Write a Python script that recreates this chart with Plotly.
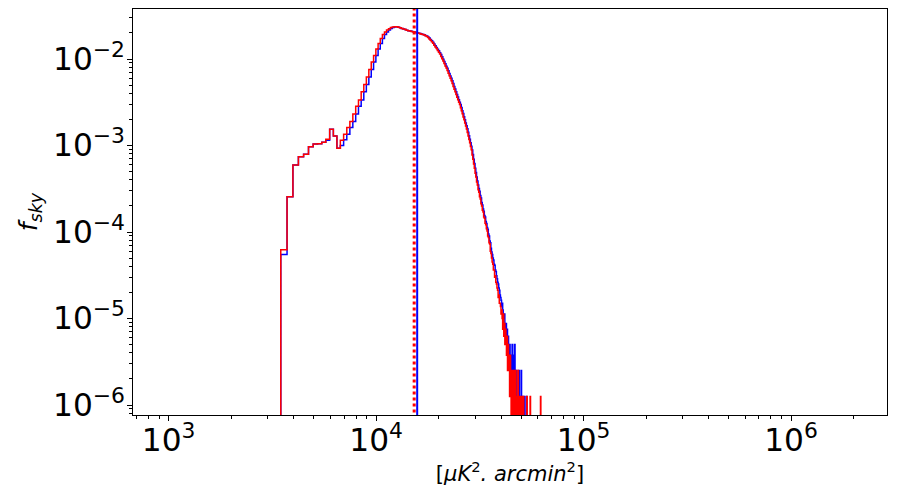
import numpy as np
import plotly.graph_objects as go

# histogram of pixel counts per linear bin, normalised by total pixel count -> f_sky
n_pix = 800000
bin_start = 3470.0
bin_width = 250.0

red_counts = [
    50, 205, 477, 594, 633, 774, 832, 836, 872, 944, 1232, 1032, 743,
    920, 1080, 1290, 1515, 1850, 2278, 2686, 3342, 4056, 4952, 6064, 7368, 8800, 10440, 12120, 13808, 15312, 16408,
    17264, 17920, 18552, 18752, 18848, 18848, 18600, 18352, 18016, 17728, 17496, 17224, 16992, 16808, 16680, 16504, 16328, 16152, 16024, 15856,
    15688, 15480, 15312, 15112, 14872, 14600, 14136, 13656, 13160, 12680, 12152, 11544, 11008, 10552, 10056, 9584, 9136, 8576, 8040, 7584,
    7112, 6656, 6296, 5872, 5480, 5128, 4784, 4480, 4168, 3856, 3584, 3336, 3104, 2896, 2704, 2528, 2384, 2192, 2016, 1864,
    1712, 1584, 1456, 1344, 1244, 1134, 1033, 941, 858, 781, 716, 620, 556, 488, 437, 381, 345, 303, 279, 247,
    231, 205, 192, 170, 160, 143, 136, 119, 115, 101, 97, 87, 82, 72, 69, 60, 58, 48, 45, 40,
    36, 34, 29, 29, 24, 25, 21, 20, 18, 17, 14, 15, 12, 12, 11,
    9, 10, 8, 6, 9, 5, 7, 4, 6, 5, 3, 5, 2, 4, 3, 2, 1, 3, 2, 0,
    2, 1, 2, 0, 1, 2, 0, 1, 2, 0, 1, 0, 1, 2, 0, 1, 0, 1, 0, 1,
    1, 0, 0, 1, 0, 1, 0, 0, 0, 0, 0, 0, 0, 1, 0, 0, 0, 0, 0, 0,
    0, 1, 0, 0, 0, 0, 0, 0, 0, 0, 0, 0, 0, 0, 0, 0, 0, 0, 0, 0,
    0, 0, 0, 0, 0, 0, 0, 0, 1,
]

blue_counts = [
    44, 205, 477, 594, 633, 774, 832, 836, 872, 920, 1232, 1032, 743,
    800, 930, 1080, 1290, 1515, 1850, 2278, 2686, 3342, 4056, 4952, 6064, 7368, 8800, 10440, 12120, 13808, 15312,
    16408, 17300, 18000, 18550, 18780, 18850, 18650, 18400, 18060, 17760, 17520, 17250, 17010, 16830, 16700, 16530, 16360, 16190, 16070, 15910,
    15750, 15560, 15400, 15220, 15000, 14760, 14400, 13950, 13480, 12980, 12500, 11950, 11350, 10850, 10400, 9950, 9450, 9000, 8500, 7950,
    7500, 7050, 6600, 6250, 5850, 5450, 5100, 4780, 4480, 4170, 3860, 3590, 3340, 3110, 2900, 2710, 2530, 2390, 2200, 2020,
    1870, 1720, 1590, 1460, 1350, 1250, 1140, 1040, 945, 860, 785, 712, 630, 555, 495, 438, 390, 345, 310, 280,
    254, 236, 211, 198, 175, 164, 148, 139, 124, 119, 106, 100, 90, 86, 76, 72, 63, 60, 52, 47,
    44, 40, 38, 34, 33, 29, 28, 25, 23, 21, 20, 18, 17, 15, 14,
    13, 11, 12, 10, 9, 8, 9, 7, 6, 7, 5, 6, 4, 5, 4, 3, 4, 3, 2, 3,
    2, 4, 2, 1, 3, 2, 4, 2, 1, 0, 2, 1, 1, 0, 1, 2, 0, 1, 1, 0,
    2, 0, 1, 0, 1, 0, 0, 1, 0, 0, 0, 0, 1,
]

# vertical markers (red dotted / blue solid)
red_marker = 15250
blue_marker = 15770

floor = 1e-9  # empty bins drop below the axis, like matplotlib on log scale


def step_xy(counts):
    vals = np.array(counts, dtype=float) / n_pix
    vals = np.where(vals > 0, vals, floor)
    edges = bin_start + bin_width * np.arange(len(counts) + 1)
    x = np.concatenate([[edges[0]], edges[:-1], [edges[-1], edges[-1]]])
    y = np.concatenate([[floor], vals, [vals[-1], floor]])
    return x, y


fig = go.Figure()

bx, by = step_xy(blue_counts)
rx, ry = step_xy(red_counts)
fig.add_trace(go.Scatter(x=bx, y=by, mode='lines', line_shape='hv',
                         line=dict(color='blue', width=1.5), showlegend=False))
fig.add_trace(go.Scatter(x=rx, y=ry, mode='lines', line_shape='hv',
                         line=dict(color='red', width=1.5), showlegend=False))
fig.add_trace(go.Scatter(x=[blue_marker, blue_marker], y=[floor, 1], mode='lines',
                         line=dict(color='blue', width=2), showlegend=False))
fig.add_trace(go.Scatter(x=[red_marker, red_marker], y=[floor, 1], mode='lines',
                         line=dict(color='red', width=3, dash='dot'), showlegend=False))

axis_style = dict(
    type='log', dtick=1, exponentformat='power', showexponent='all',
    ticks='outside', ticklen=5, tickwidth=1, tickcolor='black',
    showline=True, linecolor='black', linewidth=1, mirror=True,
    showgrid=False, zeroline=False, automargin=False,
    tickfont=dict(family='DejaVu Sans', size=25, color='black'),
    minor=dict(ticks='outside', ticklen=3, tickcolor='black', showgrid=False),
)

fig.update_xaxes(axis_style, range=[np.log10(673), np.log10(2.9e6)], ticklabelstandoff=-6,
                 title=dict(text='[<i>μK</i><sup>2</sup><i>. arcmin</i><sup>2</sup>]', standoff=0,
                            font=dict(family='DejaVu Sans', size=21, color='black')))
fig.update_yaxes(axis_style, range=[-6.1156, -1.422], ticklabelstandoff=-3,
                 title=dict(text='<i>f</i><sub><i>sky</i></sub>', standoff=8,
                            font=dict(family='DejaVu Sans', size=25, color='black')))

# page body adds an 8px offset, so the figure is a little smaller than the window
fig.update_layout(
    width=892, height=492,
    margin=dict(l=125, r=13, t=1, b=85),
    plot_bgcolor='white', paper_bgcolor='white',
)

fig.write_html("out.html")
